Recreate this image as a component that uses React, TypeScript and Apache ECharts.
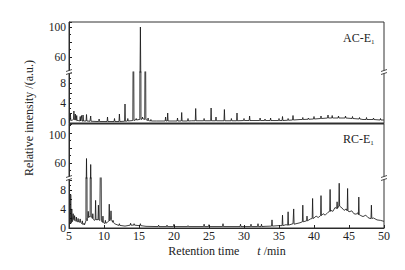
import React, { useEffect, useRef } from 'react';
import * as echarts from 'echarts';

// ---------- data ----------
const X_MIN = 5;
const X_MAX = 50;
const X_TICK_STEP = 5;

// AC-E1 baseline points [t, value]
const AC_BASE: [number, number][] = [
  [5, 0.5], [5.5, 0.6], [6.3, 0.5], [7, 0.4], [8, 0.35], [9, 0.3], [12, 0.3], [13.5, 0.4],
  [14.5, 0.6], [15, 0.7], [15.7, 0.8], [16.5, 0.45], [17.5, 0.4], [20, 0.4], [22.5, 0.45],
  [29, 0.45], [30, 0.5], [35, 0.5], [37, 0.6], [38, 0.7], [40, 0.8], [41, 0.9], [42, 1.0],
  [44.5, 1.0], [45.5, 0.9], [47, 0.7], [48.5, 0.7], [50, 0.6],
];
// AC-E1 peaks [t, foot value, apex value]
const AC_PEAKS: [number, number, number][] = [
  [5.2, 0.5, 1.8], [5.7, 0.7, 2.4], [5.9, 0.6, 1.8], [6.1, 0.5, 1.5], [6.6, 0.4, 1.3],
  [6.8, 0.4, 1.5], [7.0, 0.4, 1.6], [7.5, 0.4, 1.7], [8.1, 0.35, 1.4], [9.3, 0.3, 0.8],
  [10.5, 0.3, 1.2], [11.5, 0.3, 0.9], [12.2, 0.3, 1.8], [13.0, 0.35, 3.8], [13.4, 0.4, 0.9],
  [14.2, 0.5, 28], [14.6, 0.6, 0.9], [15.2, 0.7, 100], [15.5, 0.8, 1.2], [15.9, 0.7, 28],
  [16.3, 0.5, 1.0], [16.7, 0.4, 0.7], [18.8, 0.4, 1.2], [19.1, 0.4, 2.0], [20.5, 0.4, 1.0],
  [21.1, 0.4, 2.1], [22.0, 0.4, 0.9], [23.1, 0.45, 2.9], [24.3, 0.45, 0.9], [25.3, 0.45, 3.0],
  [26.0, 0.45, 1.2], [27.2, 0.45, 2.7], [28.2, 0.45, 0.9], [29.0, 0.45, 2.0], [30.0, 0.5, 0.9],
  [30.8, 0.5, 1.4], [32.3, 0.5, 1.0], [33.0, 0.5, 0.8], [33.8, 0.5, 1.0], [35.0, 0.5, 0.9],
  [35.5, 0.5, 1.3], [36.3, 0.55, 0.9], [37.0, 0.6, 1.5], [38.4, 0.7, 1.1], [39.2, 0.75, 1.0],
  [40.0, 0.8, 1.3], [41.0, 0.9, 1.4], [42.0, 1.0, 1.6], [42.6, 1.0, 1.5], [43.5, 1.0, 1.4],
  [44.5, 1.0, 1.4], [45.5, 0.9, 1.3], [46.5, 0.8, 1.1], [47.5, 0.7, 1.1], [48.5, 0.7, 1.0],
  [49.5, 0.6, 0.9],
];

// RC-E1 baseline points [t, value]
const RC_BASE: [number, number][] = [
  [5, 1.0], [5.5, 1.8], [6.0, 1.4], [6.5, 1.2], [7.0, 0.7], [7.3, 0.6], [7.6, 2.0], [7.9, 2.4],
  [8.3, 2.2], [8.6, 1.6], [9.0, 1.8], [9.4, 1.6], [9.7, 1.3], [10.0, 1.0], [10.5, 1.2],
  [11.0, 1.8], [11.5, 0.9], [12.0, 0.6], [13, 0.4], [14, 0.6], [15, 0.5], [16, 0.35], [20, 0.3],
  [25, 0.3], [30, 0.3], [33, 0.35], [35, 0.5], [36, 0.7], [37, 0.9], [38, 1.1], [39, 1.6],
  [39.5, 1.9], [40, 2.1], [40.3, 2.5], [40.6, 2.2], [41, 2.6], [41.3, 3.0], [41.6, 2.7],
  [42, 3.3], [42.4, 3.7], [42.7, 3.5], [43, 4.3], [43.3, 4.1], [43.6, 4.6], [44, 4.2],
  [44.3, 3.7], [44.6, 4.0], [45, 3.4], [45.4, 3.6], [45.7, 3.0], [46, 2.9], [46.3, 3.2],
  [46.7, 2.6], [47, 2.4], [47.4, 2.7], [47.7, 2.2], [48, 2.0], [48.5, 2.1], [49, 1.7],
  [49.5, 1.6], [50, 1.4],
];
// RC-E1 peaks [t, foot value, apex value]
const RC_PEAKS: [number, number, number][] = [
  [5.25, 1.0, 7.0], [5.4, 1.3, 4.0], [5.6, 1.8, 3.0], [5.8, 1.6, 2.6], [6.05, 1.4, 2.3],
  [6.3, 1.3, 2.0], [6.6, 1.2, 1.9], [6.9, 0.9, 1.5], [7.15, 0.65, 1.0], [7.5, 1.5, 66],
  [7.75, 2.2, 3.5], [8.1, 2.3, 58], [8.4, 2.0, 3.0], [8.8, 1.7, 5.8], [9.2, 1.7, 4.8],
  [9.55, 1.5, 25], [9.85, 1.2, 2.5], [10.2, 1.0, 1.6], [10.75, 1.5, 5.0], [11.0, 1.8, 3.6],
  [11.3, 1.2, 1.6], [12.2, 0.55, 0.9], [13.8, 0.6, 1.0], [14.3, 0.6, 0.9], [15.2, 0.5, 0.9],
  [17.8, 0.3, 0.6], [19.0, 0.3, 0.6], [20.0, 0.3, 0.8], [22.0, 0.3, 0.5], [24.3, 0.3, 0.8],
  [25.0, 0.3, 0.7], [27.0, 0.3, 0.9], [29.5, 0.3, 0.8], [31.0, 0.3, 0.8], [32.0, 0.3, 0.9],
  [32.5, 0.3, 0.8], [34.0, 0.4, 1.7], [35.5, 0.5, 2.7], [36.3, 0.6, 3.4], [37.1, 0.8, 4.0],
  [38.4, 1.3, 4.8], [39.0, 1.5, 2.5], [39.8, 2.0, 6.2], [41.0, 2.6, 6.8], [42.3, 3.5, 8.1],
  [43.3, 4.1, 5.5], [43.6, 4.6, 9.4], [44.8, 3.6, 8.3], [46.4, 2.8, 6.5], [48.2, 2.0, 4.8],
];

// axis ranges for the broken axes
const UPPER_MIN = 40;
const AC_UPPER_MAX = 106.67;
const AC_LOWER_MAX = 10.2;
const RC_UPPER_MAX = 112;
const RC_LOWER_MAX = 10.5;
const UPPER_LABELS = [60, 100];
const LOWER_LABELS = [0, 4, 8];

const SPIKE_HALF_WIDTH = 0.06;

function buildTrace(base: [number, number][], peaks: [number, number, number][]) {
  const pts: [number, number][] = base.map((p) => [p[0], p[1]]);
  peaks.forEach(([t, foot, apex]) => {
    const w = apex > 20 ? SPIKE_HALF_WIDTH * 1.4 : SPIKE_HALF_WIDTH;
    pts.push([t - w, foot], [t, apex], [t + w, foot]);
  });
  pts.sort((a, b) => a[0] - b[0]);
  return pts;
}

const FONT = 'Liberation Serif, Times New Roman, serif';
const L = 69;
const W = 315;
const R = L + W;

export default function App() {
  const ref = useRef<HTMLDivElement>(null);
  useEffect(() => {
    if (!ref.current) return;
    const chart = echarts.init(ref.current, undefined, { renderer: 'svg' });
    const acTrace = buildTrace(AC_BASE, AC_PEAKS);
    const rcTrace = buildTrace(RC_BASE, RC_PEAKS);

    const grids = [
      { left: L, top: 22, width: W, height: 50 },
      { left: L, top: 72, width: W, height: 51 },
      { left: L, top: 124, width: W, height: 54 },
      { left: L, top: 178, width: W, height: 50 },
    ];

    const xAxes = grids.map((_, i) => ({
      type: 'value',
      gridIndex: i,
      min: X_MIN,
      max: X_MAX,
      interval: X_TICK_STEP,
      axisLine: { show: i === 1 || i === 3, lineStyle: { color: '#222', width: 1 } },
      axisTick: { show: i === 3, inside: true, length: 3, lineStyle: { color: '#222' } },
      axisLabel: {
        show: i === 3,
        color: '#222',
        fontFamily: FONT,
        fontSize: 12,
        margin: 2,
      },
      splitLine: { show: false },
    }));

    // nudge: the "0" of the upper panel sits slightly up, the "100" of the lower panel slightly down
    const mkY = (
      i: number, min: number, max: number, interval: number, labels: number[], upper: boolean,
      nudgeValue: number | null, nudgePad: number[],
    ) => ({
      type: 'value',
      gridIndex: i,
      min,
      max,
      interval,
      axisLine: { show: true, lineStyle: { color: '#222', width: 1 } },
      axisTick: { show: true, inside: true, length: 3, lineStyle: { color: '#222' } },
      minorTick: { show: true, splitNumber: 2, length: 2, lineStyle: { color: '#222' } },
      axisLabel: {
        color: '#222',
        fontFamily: FONT,
        fontSize: 11.5,
        margin: 3,
        showMaxLabel: upper ? false : undefined,
        rich: {
          n: { fontFamily: FONT, fontSize: 11.5, color: '#222', padding: nudgePad },
        },
        formatter: (v: number) => {
          const r = Math.round(v);
          if (Math.abs(v - r) > 1e-6 || labels.indexOf(r) < 0) return '';
          return r === nudgeValue ? `{n|${r}}` : String(r);
        },
      },
      splitLine: { show: false },
    });

    const yAxes = [
      mkY(0, UPPER_MIN, AC_UPPER_MAX, 20, UPPER_LABELS, true, null, [0, 0, 0, 0]),
      mkY(1, 0, AC_LOWER_MAX, 2, LOWER_LABELS, false, 0, [0, 0, 3, 0]),
      mkY(2, UPPER_MIN, RC_UPPER_MAX, 20, UPPER_LABELS, true, 100, [3, 0, 0, 0]),
      mkY(3, 0, RC_LOWER_MAX, 2, LOWER_LABELS, false, null, [0, 0, 0, 0]),
    ];

    const lineStyle = { color: '#111', width: 0.8 };
    const series = [acTrace, acTrace, rcTrace, rcTrace].map((d, i) => ({
      type: 'line',
      xAxisIndex: i,
      yAxisIndex: i,
      data: d,
      showSymbol: false,
      symbol: 'none',
      clip: true,
      lineStyle,
      silent: true,
    }));

    const breakMark = (x: number, y: number) => [
      { type: 'rect', shape: { x: x - 3, y: y - 1.5, width: 6, height: 3 }, style: { fill: '#fff' }, z: 100 },
      { type: 'line', shape: { x1: x - 3, y1: y - 0.5, x2: x + 3, y2: y - 2.5 }, style: { stroke: '#222', lineWidth: 0.8 }, z: 101 },
      { type: 'line', shape: { x1: x - 3, y1: y + 2.5, x2: x + 3, y2: y + 0.5 }, style: { stroke: '#222', lineWidth: 0.8 }, z: 101 },
    ];

    const graphic: any[] = [
      { type: 'rect', shape: { x: L, y: 22, width: W, height: 101 }, style: { fill: 'none', stroke: '#333', lineWidth: 1 }, z: 50 },
      { type: 'rect', shape: { x: L, y: 124, width: W, height: 104 }, style: { fill: 'none', stroke: '#333', lineWidth: 1 }, z: 50 },
      ...breakMark(L, 72),
      ...breakMark(R, 72),
      ...breakMark(L, 178),
      ...breakMark(R, 178),
      {
        type: 'text', x: 343, y: 38, z: 110,
        style: {
          text: 'AC-E{s|1}', fontFamily: FONT, fontSize: 12, fill: '#222', verticalAlign: 'middle',
          rich: { s: { fontSize: 7, fontFamily: FONT, fill: '#222', padding: [7, 0, 0, 0] } },
        },
      },
      {
        type: 'text', x: 343, y: 139, z: 110,
        style: {
          text: 'RC-E{s|1}', fontFamily: FONT, fontSize: 12, fill: '#222', verticalAlign: 'middle',
          rich: { s: { fontSize: 7, fontFamily: FONT, fill: '#222', padding: [7, 0, 0, 0] } },
        },
      },
      {
        type: 'text', x: 227, y: 251, z: 110,
        style: {
          text: 'Retention time      {i|t} /min', fontFamily: FONT, fontSize: 12, fill: '#222',
          align: 'center', verticalAlign: 'middle',
          rich: { i: { fontStyle: 'italic', fontFamily: FONT, fontSize: 12, fill: '#222' } },
        },
      },
      {
        type: 'text', x: 29, y: 118, rotation: Math.PI / 2, z: 110,
        style: {
          text: 'Relative intensity /(a.u.)', fontFamily: FONT, fontSize: 12, fill: '#222',
          align: 'center', verticalAlign: 'middle',
        },
      },
    ];

    chart.setOption({
      animation: false,
      backgroundColor: '#fff',
      grid: grids,
      xAxis: xAxes,
      yAxis: yAxes,
      series,
      graphic,
    } as any);
    return () => chart.dispose();
  }, []);
  return <div ref={ref} style={{ position: 'fixed', left: 0, top: 0, width: 405, height: 270 }} />;
}
